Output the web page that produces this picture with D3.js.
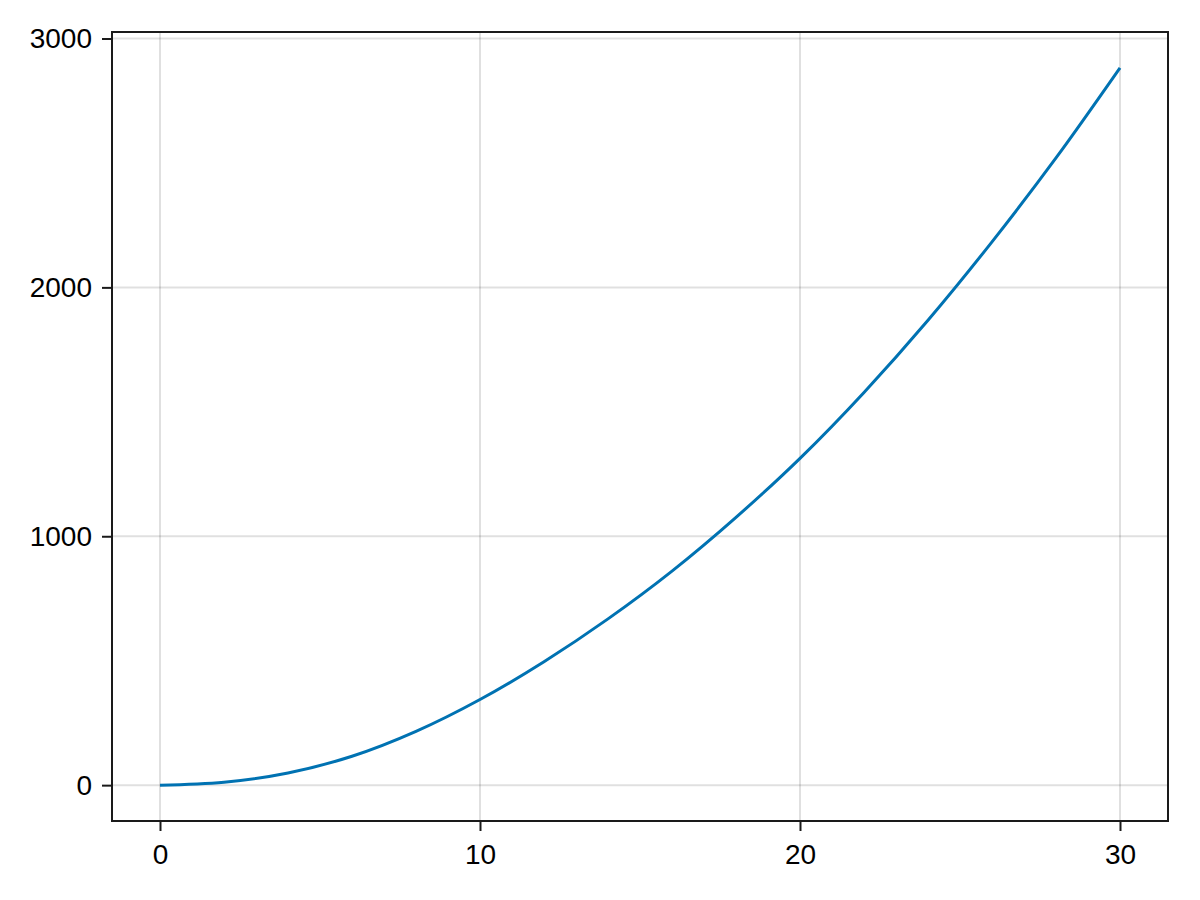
<!DOCTYPE html>
<html>
<head>
<meta charset="utf-8">
<script src="https://cdn.jsdelivr.net/npm/d3@7"></script>
<style>
  html, body { margin: 0; padding: 0; background: #fff; }
  svg { display: block; }
  text { font-family: "Liberation Sans", Arial, sans-serif; fill: #000; }
</style>
</head>
<body>
<div id="chart"></div>
<script>
// data
const xs = [0, 2, 4, 6, 8, 10, 12, 14, 16, 18, 20, 22, 24, 26, 28, 30];
const ys = [0, 12, 49, 116, 216, 344, 496, 668, 860, 1076, 1313, 1578, 1868, 2183, 2520, 2882];
const xTicks = [0, 10, 20, 30];
const yTicks = [0, 1000, 2000, 3000];

const W = 1200, H = 900;
const plotLeft = 112, plotRight = 1168, plotTop = 32, plotBottom = 821;

const svg = d3.select("#chart").append("svg")
    .attr("width", W).attr("height", H);

// 5% padding like the original auto limits
const xExt = d3.extent(xs), yExt = d3.extent(ys);
const xPad = (xExt[1] - xExt[0]) * 0.05, yPad = (yExt[1] - yExt[0]) * 0.05;

const x = d3.scaleLinear().domain([xExt[0] - xPad, xExt[1] + xPad]).range([plotLeft, plotRight]);
const y = d3.scaleLinear().domain([yExt[0] - yPad, yExt[1] + yPad]).range([plotBottom, plotTop]);

// grid
const grid = svg.append("g");
grid.selectAll("line.gx").data(xTicks).enter().append("line")
    .attr("x1", d => x(d)).attr("x2", d => x(d))
    .attr("y1", plotTop).attr("y2", plotBottom)
    .attr("stroke", "#000").attr("stroke-opacity", 0.12).attr("stroke-width", 2);
grid.selectAll("line.gy").data(yTicks).enter().append("line")
    .attr("x1", plotLeft).attr("x2", plotRight)
    .attr("y1", d => y(d)).attr("y2", d => y(d))
    .attr("stroke", "#000").attr("stroke-opacity", 0.12).attr("stroke-width", 2);

// curve
const line = d3.line()
    .x((d, i) => x(xs[i]))
    .y(d => y(d))
    .curve(d3.curveMonotoneX);

svg.append("path")
    .datum(ys)
    .attr("d", line)
    .attr("fill", "none")
    .attr("stroke", "#0072b2")
    .attr("stroke-width", 3);

// axes
const xAxis = d3.axisBottom(x).tickValues(xTicks).tickFormat(d3.format("d")).tickSize(10).tickPadding(13);
const yAxis = d3.axisLeft(y).tickValues(yTicks).tickFormat(d3.format("d")).tickSize(10).tickPadding(10);

const gx = svg.append("g").attr("transform", `translate(0,${plotBottom})`).call(xAxis);
const gy = svg.append("g").attr("transform", `translate(${plotLeft},0)`).call(yAxis);

[gx, gy].forEach(g => {
    g.select(".domain").remove();
    g.selectAll(".tick line").attr("stroke", "#1a1a1a").attr("stroke-width", 2);
    g.selectAll(".tick text")
        .attr("font-size", 28)
        .style("font-family", '"Liberation Sans", Arial, sans-serif')
        .attr("fill", "#000");
});

// frame
svg.append("rect")
    .attr("x", plotLeft).attr("y", plotTop)
    .attr("width", plotRight - plotLeft).attr("height", plotBottom - plotTop)
    .attr("fill", "none")
    .attr("stroke", "#1a1a1a")
    .attr("stroke-width", 2);
</script>
</body>
</html>
